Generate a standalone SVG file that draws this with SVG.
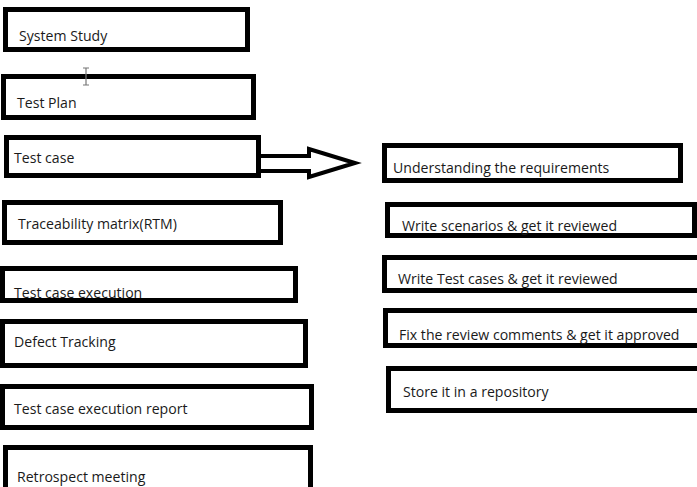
<svg xmlns="http://www.w3.org/2000/svg" width="697" height="487" viewBox="0 0 697 487">
<style>
.box{fill:#fff;stroke:#000;stroke-width:5}
.lbl{font-family:"Open Sans","Noto Sans","Liberation Sans",sans-serif;font-size:14.1px;fill:#1a1a1a}
</style>
<rect width="697" height="487" fill="#fff"/>
<g id="connectors">
<polygon points="259,156 309,156 309,149 355,163 309,177 309,171 259,171" fill="#fff" stroke="#000" stroke-width="4" stroke-linejoin="miter"/>
</g>
<g id="system-study"><rect class="box" x="5.5" y="9.5" width="242" height="40"/><text class="lbl" x="19" y="41">System Study</text></g>
<g id="test-plan"><rect class="box" x="3.5" y="76.5" width="250" height="41"/><text class="lbl" x="17" y="108">Test Plan</text></g>
<g id="test-case"><rect class="box" x="6.5" y="137.5" width="252" height="38"/><text class="lbl" x="14" y="163">Test case</text></g>
<g id="rtm"><rect class="box" x="4.5" y="202.5" width="276" height="40"/><text class="lbl" x="18" y="229">Traceability matrix(RTM)</text></g>
<g id="tce"><rect class="box" x="2.5" y="268.5" width="293" height="32"/><text class="lbl" x="14" y="298">Test case execution</text></g>
<g id="defect"><rect class="box" x="2.5" y="321.5" width="303" height="44"/><text class="lbl" x="14" y="347">Defect Tracking</text></g>
<g id="report"><rect class="box" x="2.5" y="386.5" width="309" height="41"/><text class="lbl" x="14" y="414">Test case execution report</text></g>
<g id="retro"><rect class="box" x="5.5" y="447.5" width="305" height="50"/><text class="lbl" x="17" y="482">Retrospect meeting</text></g>
<g id="understanding"><rect class="box" x="384.5" y="145.5" width="296" height="35"/><text class="lbl" x="393" y="173">Understanding the requirements</text></g>
<g id="scenarios"><rect class="box" x="387.5" y="204.5" width="307" height="31"/><text class="lbl" x="402" y="231">Write scenarios &amp; get it reviewed</text></g>
<g id="testcases"><rect class="box" x="384.5" y="257.5" width="330" height="33"/><text class="lbl" x="398" y="284">Write Test cases &amp; get it reviewed</text></g>
<g id="fix"><rect class="box" x="385.5" y="310.5" width="330" height="35"/><text class="lbl" x="399" y="340">Fix the review comments &amp; get it approved</text></g>
<g id="store"><rect class="box" x="388.5" y="368.5" width="330" height="42"/><text class="lbl" x="403" y="397">Store it in a repository</text></g>
<g id="cursor" fill="none" stroke="#777" stroke-width="1.2"><path d="M83,68 H89 M86,68 V85 M83,85 H89"/></g>
</svg>
